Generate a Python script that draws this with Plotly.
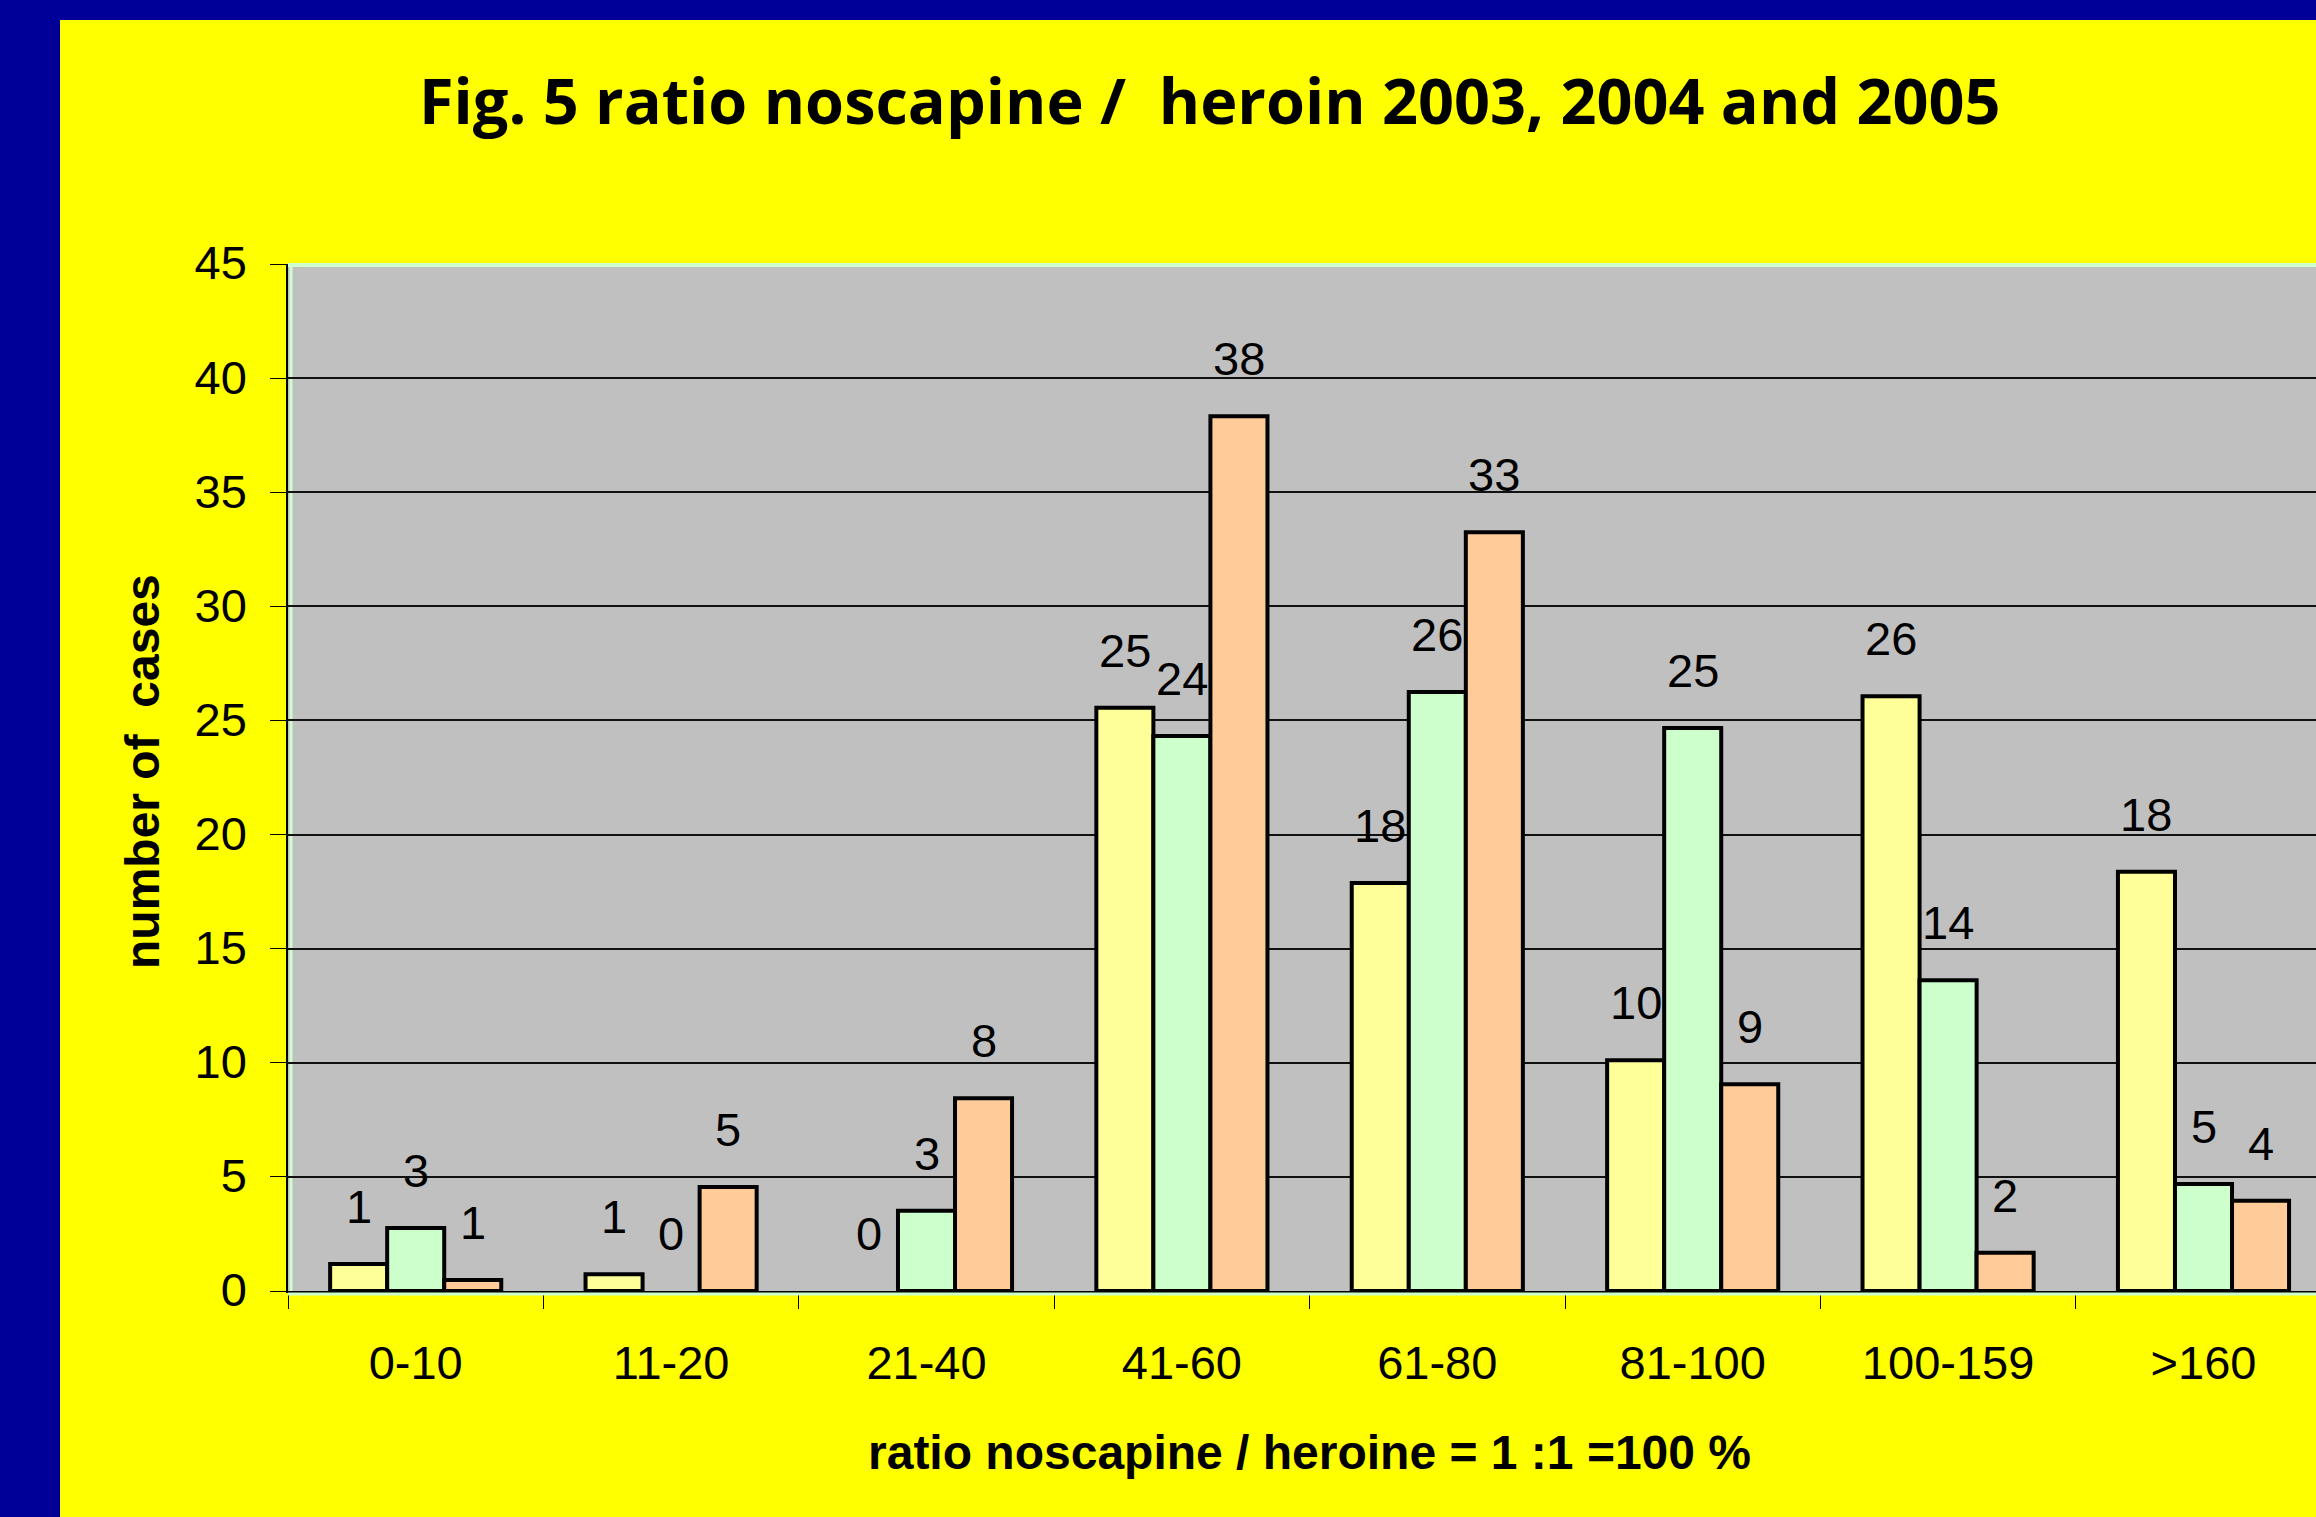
import plotly.graph_objects as go

# ---------------- data ----------------
categories = ["0-10", "11-20", "21-40", "41-60", "61-80", "81-100", "100-159", ">160"]
series_names = ["2003", "2004", "2005"]
values_2003 = [1.18, 0.73, 0.0, 25.56, 17.88, 10.11, 26.06, 18.37]
values_2004 = [2.76, 0.0, 3.52, 24.32, 26.25, 24.67, 13.62, 4.69]
values_2005 = [0.48, 4.56, 8.45, 38.33, 33.25, 9.06, 1.68, 3.95]
labels_2003 = ["1", "1", "0", "25", "18", "10", "26", "18"]
labels_2004 = ["3", "0", "3", "24", "26", "25", "14", "5"]
labels_2005 = ["1", "5", "8", "38", "33", "9", "2", "4"]
y_tick_values = [0, 5, 10, 15, 20, 25, 30, 35, 40, 45]

title_text = "Fig. 5 ratio noscapine /  heroin 2003, 2004 and 2005"
x_title_text = "ratio noscapine / heroine = 1 :1 =100 %"
y_title_text = "number of\u00a0 cases"

# ---------------- styling / geometry ----------------
W, H = 2316, 1517
L, R, T, B = 288, 0, 264, 226
PW, PH = W - L - R, H - T - B
bar_colors = ["#FFFF99", "#CCFFCC", "#FFCC99"]
BG_YELLOW = "#FFFF00"
BLUE = "#000099"
PLOT_GRAY = "#C0C0C0"
BARGAP = 0.33
NUM_FONT = "Liberation Sans, Arial, sans-serif"
FS = 47


def px(x):
    return (x - L) / PW


def py(y):
    return (H - B - y) / PH


series_values = [values_2003, values_2004, values_2005]
series_labels = [labels_2003, labels_2004, labels_2005]

fig = go.Figure()
for name, vals, col in zip(series_names, series_values, bar_colors):
    fig.add_trace(go.Bar(
        name=name, x=categories, y=vals,
        marker=dict(color=col,
                    line=dict(color="black", width=[0 if v == 0 else 4 for v in vals])),
    ))

# data labels
bw = (1 - BARGAP) / 3
annotations = []
for k, (vals, labs) in enumerate(zip(series_values, series_labels)):
    off = (k - 1) * bw
    for i, (v, t) in enumerate(zip(vals, labs)):
        annotations.append(dict(
            x=i + off, y=v, xref="x", yref="y", text=t, showarrow=False,
            yanchor="bottom", xanchor="center", yshift=29,
            font=dict(family=NUM_FONT, size=FS, color="black"),
        ))

# titles
annotations.append(dict(
    x=px(1210), y=py(100), xref="paper", yref="paper", text="<b>" + title_text + "</b>",
    showarrow=False, xanchor="center", yanchor="middle",
    font=dict(family="Open Sans, Noto Sans, sans-serif", size=63, color="black"),
))
annotations.append(dict(
    x=px(1309), y=py(1452), xref="paper", yref="paper", text="<b>" + x_title_text + "</b>",
    showarrow=False, xanchor="center", yanchor="middle",
    font=dict(family=NUM_FONT, size=48, color="black"),
))
annotations.append(dict(
    x=px(142), y=py(772), xref="paper", yref="paper", text="<b>" + y_title_text + "</b>",
    showarrow=False, xanchor="center", yanchor="middle", textangle=-90,
    font=dict(family=NUM_FONT, size=48, color="black"),
))

shapes = [
    # blue frame bands
    dict(type="rect", xref="paper", yref="paper", x0=px(0), x1=px(60), y0=py(H), y1=py(0),
         fillcolor=BLUE, line=dict(width=0), layer="below"),
    dict(type="rect", xref="paper", yref="paper", x0=px(0), x1=px(W), y0=py(20), y1=py(0),
         fillcolor=BLUE, line=dict(width=0), layer="below"),
    # light green plot border accents
    dict(type="line", xref="paper", yref="paper", x0=0, x1=1, y0=py(265), y1=py(265),
         line=dict(color="#CCFFCC", width=4), layer="above"),
    dict(type="line", xref="paper", yref="paper", x0=px(291), x1=px(291), y0=0, y1=1,
         line=dict(color="#CCFFCC", width=3), layer="below"),
    dict(type="line", xref="paper", yref="paper", x0=0, x1=1, y0=py(1294), y1=py(1294),
         line=dict(color="#CCFFCC", width=3), layer="above"),
]

n_cat_visible = PW / 255.4
fig.update_layout(
    width=W, height=H,
    margin=dict(l=L, r=R, t=T, b=B, pad=0),
    paper_bgcolor=BG_YELLOW, plot_bgcolor=PLOT_GRAY,
    barmode="group", bargap=BARGAP, bargroupgap=0,
    showlegend=False,
    annotations=annotations, shapes=shapes,
    xaxis=dict(
        type="category", range=[-0.5, -0.5 + n_cat_visible],
        showgrid=False, showline=True, linecolor="black", linewidth=1.5,
        ticks="outside", tickson="boundaries", ticklen=16, tickwidth=1, tickcolor="black",
        tickfont=dict(family=NUM_FONT, size=FS, color="black"),
        ticklabelstandoff=30, fixedrange=True,
    ),
    yaxis=dict(
        range=[0, 45], tickvals=y_tick_values,
        showgrid=True, gridcolor="#111111", gridwidth=1.5,
        zeroline=False, showline=True, linecolor="black", linewidth=1.5,
        ticks="outside", ticklen=16, tickwidth=1, tickcolor="black",
        tickfont=dict(family=NUM_FONT, size=FS, color="black"),
        ticklabelstandoff=14, ticklabelshift=-1, fixedrange=True,
    ),
)

fig.write_html(
    "out.html",
    config={"displayModeBar": False},
    post_script="document.body.style.margin='0';document.body.style.overflow='hidden';",
)
